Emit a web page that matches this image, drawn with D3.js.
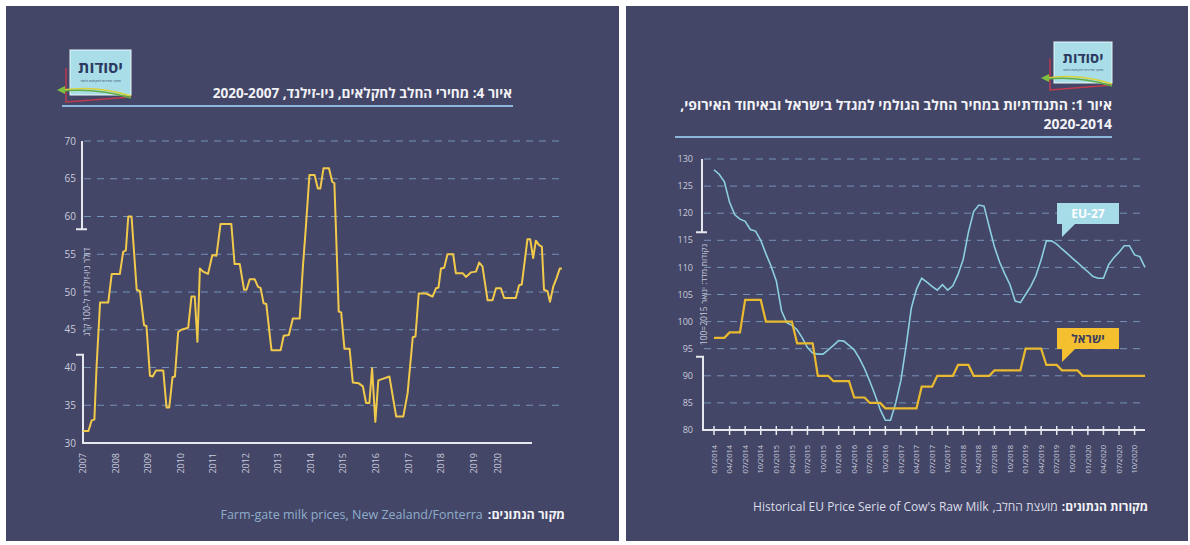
<!DOCTYPE html>
<html>
<head>
<meta charset="utf-8">
<script src="https://cdn.jsdelivr.net/npm/d3@7"></script>
<style>
  body { margin: 0; background: #fff; }
  svg { display: block; }
  text { font-family: "Open Sans", "DejaVu Sans", sans-serif; }
</style>
</head>
<body>
<svg id="chart"></svg>
<script>
// ---- left panel: NZ farm-gate price (months since 01/2007, NZD per 100 kg)
const nzPoints = [[0,31.6],[2,31.6],[3.2,33],[4.2,33.1],[5,40.1],[6.3,48.6],[9.3,48.6],[10.6,52.4],[13.6,52.4],[14.8,55.3],[15.8,55.5],[16.7,60],[17.9,60],[19.8,50.3],[21,50.1],[22.5,45.6],[23.4,45.5],[24.7,38.9],[25.7,38.8],[26.9,39.6],[29.6,39.6],[30.8,34.7],[31.8,34.7],[33,38.7],[33.9,38.8],[35.1,44.7],[36.3,45],[38.2,45.2],[38.8,45.3],[40,49.4],[41.2,49.4],[42.2,43.4],[43.1,53.1],[44.3,52.7],[46.1,52.4],[47.7,54.9],[49.2,54.8],[50.7,59],[54.7,59],[55.9,53.7],[57.8,53.7],[59.4,50.3],[60.3,50.3],[61.5,51.7],[63.3,51.7],[64.5,50.7],[65.5,50.5],[66.6,48.5],[67.6,48.4],[69.5,42.3],[72.9,42.3],[74,44.2],[75.9,44.3],[77.4,46.5],[79.9,46.5],[81.1,53.4],[82.1,58.2],[83.5,65.5],[85.4,65.5],[86.6,63.7],[87.5,63.7],[88.7,66.4],[90.7,66.4],[91.9,64.6],[92.7,64.4],[94.3,47.4],[95.2,47.3],[96.4,42.5],[98.3,42.5],[99.5,38],[101.7,37.9],[103.2,37.5],[104.4,35.3],[105.6,35.3],[106.6,39.9],[107.8,32.8],[108.9,38.3],[110.5,38.5],[113,38.8],[115.5,33.5],[118.1,33.5],[119.7,36.6],[121.6,44],[122.6,44.1],[123.8,49.8],[126.5,49.8],[128.9,49.4],[130.2,50.5],[131.1,50.6],[132,53.1],[133.2,53.2],[134.4,55],[136.5,55],[137.5,52.5],[140,52.5],[141.2,52],[143.1,52.6],[144.9,52.7],[146.1,53.9],[147.3,53.4],[149.2,48.9],[151,48.9],[152.3,50.5],[154.1,50.5],[155.3,49.2],[159.6,49.2],[160.8,50.9],[161.8,51],[163.9,57],[164.9,57],[166,54.5],[167,56.8],[168.2,56.2],[169.2,56],[170,50.3],[171.3,50.1],[172.2,48.7],[173.4,50.7],[174.6,51.8],[175.8,53.1],[176.6,53.1]];
const nzYearLabels = ["2007","2008","2009","2010","2011","2012","2013","2014","2015","2016","2017","2018","2019","2020"];
const nzYearMonths = [0,12,24,36,48,60,72,84,96,108,120,132,144,153];
const nzYTicks = [30,35,40,45,50,55,60,65,70];
const nzTitle = "איור 4: מחירי החלב לחקלאים, ניו-זילנד, 2020-2007";
const nzYLabel = "דולר ניו-זילנדי ל-100 ק\"ג";

// ---- right panel: price index, monthly 01/2014 - 12/2020
const euValues = [128,127.2,125.8,122,119.7,118.9,118.5,117,116.7,115,112.5,110.2,107.5,102,99.8,99.3,98.5,97,95.2,94.2,94,94,94.8,95.6,96.5,96.4,95.6,94.8,93.2,91.3,89,86.5,83.8,81.8,81.8,85,89.2,95.5,102.5,106,108,107.3,106.5,105.8,106.8,105.8,106.6,108.7,111.5,116.5,120.3,121.5,121.3,117.5,113.8,111,108.8,106.8,103.8,103.5,105,106.5,108.5,111.4,114.9,114.9,114.3,113.4,112.6,111.7,110.9,110,109.2,108.3,108,108,110.5,111.8,112.8,114,114,112.3,112,110];
const ilValues = [97,97,97,98,98,98,104,104,104,104,100,100,100,100,100,100,96,96,96,96,90,90,90,89,89,89,89,86,86,86,85,85,85,84,84,84,84,84,84,84,88,88,88,90,90,90,90,92,92,92,90,90,90,90,91,91,91,91,91,91,95,95,95,95,92,92,92,91,91,91,91,90,90,90,90,90,90,90,90,90,90,90,90,90];
const quarterLabels = ["01/2014","04/2014","07/2014","10/2014","01/2015","04/2015","07/2015","10/2015","01/2016","04/2016","07/2016","10/2016","01/2017","04/2017","07/2017","10/2017","01/2018","04/2018","07/2018","10/2018","01/2019","04/2019","07/2019","10/2019","01/2020","04/2020","07/2020","10/2020"];
const idxYTicks = [80,85,90,95,100,105,110,115,120,125,130];
const idxTitle1 = "איור 1: התנודתיות במחיר החלב הגולמי למגדל בישראל ובאיחוד האירופי,";
const idxTitle2 = "2020-2014";
const idxYLabel = "נקודות מדד: ינואר 2015=100";

const width = 1190;
const height = 545;
const bg = "#434667";
const gridColor = "#7f9fc6";
const axisColor = "#e6e7ef";
const tickColor = "#c9cbdb";

const svg = d3.select("#chart").attr("width", width).attr("height", height);

svg.append("rect").attr("x", 6).attr("y", 6).attr("width", 613).attr("height", 535).attr("fill", bg);
svg.append("rect").attr("x", 626).attr("y", 6).attr("width", 562).attr("height", 535).attr("fill", bg);

function drawLogo(x, y, w, h) {
  const g = svg.append("g").attr("transform", `translate(${x},${y})`);
  g.append("path")
    .attr("d", `M-4,${h * 0.4} V${h + 7} L${w},${h + 2}`)
    .attr("fill", "none").attr("stroke", "#c23a4e").attr("stroke-width", 1.4);
  g.append("rect").attr("width", w).attr("height", h)
    .attr("fill", "#a9dee8").attr("stroke", "#e8f6f8").attr("stroke-width", 1);
  g.append("text").attr("x", w / 2).attr("y", h * 0.5)
    .attr("text-anchor", "middle").style("font-size", `${h * 0.36}px`).style("font-weight", 700)
    .attr("fill", "#2c3a62").text("יסודות");
  g.append("text").attr("x", w / 2).attr("y", h * 0.7)
    .attr("text-anchor", "middle").style("font-size", "3.3px")
    .attr("fill", "#2c3a62").text("מחקר ומדיניות לחקלאות ולכפר");
  g.append("path")
    .attr("d", `M${w},${h + 1} Q${w * 0.45},${h - 10} -8,${h - 5}`)
    .attr("fill", "none").attr("stroke", "#d9d23a").attr("stroke-width", 1.6);
  g.append("path")
    .attr("d", `M${w},${h + 3} Q${w * 0.45},${h - 7} -8,${h - 4}`)
    .attr("fill", "none").attr("stroke", "#5fae4a").attr("stroke-width", 1.4);
  g.append("path")
    .attr("d", `M-13,${h - 5} L-5,${h - 9} L-5,${h - 1} Z`)
    .attr("fill", "#7fbf3f");
}

function drawGrid(yScale, ticks, x1, x2) {
  svg.append("g").selectAll("line").data(ticks).enter().append("line")
    .attr("x1", x1).attr("x2", x2)
    .attr("y1", (d) => yScale(d)).attr("y2", (d) => yScale(d))
    .style("stroke", gridColor).style("stroke-width", 1)
    .style("stroke-dasharray", "7,6").style("opacity", 0.85);
}

function drawBrokenAxis(x, yTop, yCap1, yCap2, yBottom, xRight) {
  const g = svg.append("g").style("stroke", axisColor).style("stroke-width", 2).style("fill", "none");
  g.append("path").attr("d", `M${x},${yTop} V${yCap1} M${x - 6},${yCap1} H${x + 5}`);
  g.append("path").attr("d", `M${x - 6},${yCap2} H${x + 1} V${yBottom} H${xRight}`);
}

function drawYTicks(yScale, ticks, x, size) {
  svg.append("g").selectAll("text").data(ticks).enter().append("text")
    .attr("x", x).attr("y", (d) => yScale(d)).attr("dy", "0.35em")
    .attr("text-anchor", "end").style("font-size", size).attr("fill", tickColor)
    .text((d) => d);
}

function rtlText(x, y, str, size, weight, color) {
  return svg.append("text").attr("x", x).attr("y", y)
    .attr("direction", "rtl").style("direction", "rtl").attr("text-anchor", "start")
    .style("font-size", size).style("font-weight", weight).attr("fill", color).text(str);
}

function callout(x, y, w, h, fill, label, color) {
  const g = svg.append("g");
  g.append("path")
    .attr("d", `M${x},${y} H${x + w} V${y + h} H${x + 18} L${x + 5},${y + h + 13} V${y + h} H${x} Z`)
    .attr("fill", fill);
  g.append("text").attr("x", x + w / 2).attr("y", y + h / 2).attr("dy", "0.36em")
    .attr("text-anchor", "middle").style("font-size", "12px").style("font-weight", 700)
    .attr("fill", color).text(label);
}

// ================= left panel =================
drawLogo(70, 50, 61, 45);
rtlText(512, 98, nzTitle, "13.6px", 700, "#f2f2f6");
svg.append("line").attr("x1", 62).attr("x2", 513).attr("y1", 106).attr("y2", 106)
  .style("stroke", "#8fb6da").style("stroke-width", 2);

const nzX = d3.scaleLinear().domain([0, 177]).range([83, 563]);
const nzY = d3.scaleLinear().domain([30, 70]).range([443, 141]);

drawGrid(nzY, nzYTicks.filter((d) => d > 30), 84, 565);
drawBrokenAxis(82, nzY(70), nzY(58.3), nzY(41.7), nzY(30), 532);
drawYTicks(nzY, nzYTicks, 76, "10px");

svg.append("text")
  .attr("transform", `translate(87, ${nzY(50)}) rotate(-90)`)
  .attr("text-anchor", "middle").attr("dy", "0.35em")
  .style("font-size", "9px").attr("fill", tickColor).text(nzYLabel);

svg.append("g").selectAll("text").data(nzYearLabels).enter().append("text")
  .attr("transform", (d, i) => `translate(${nzX(nzYearMonths[i])}, 453) rotate(-90)`)
  .attr("text-anchor", "end").attr("dy", "0.35em")
  .style("font-size", "9px").attr("fill", tickColor).text((d) => d);

svg.append("path").datum(nzPoints)
  .attr("d", d3.line().x((d) => nzX(d[0])).y((d) => nzY(d[1])))
  .style("fill", "none").style("stroke", "#f1c94b").style("stroke-width", 2)
  .style("stroke-linejoin", "round");

// source line
const nzSrc = rtlText(565, 519, "מקור הנתונים:", "12.5px", 700, "#f2f2f6");
svg.append("text").attr("x", 565 - nzSrc.node().getComputedTextLength() - 5).attr("y", 519)
  .attr("text-anchor", "end").style("font-size", "12.5px").attr("fill", "#8fadcb")
  .text("Farm-gate milk prices, New Zealand/Fonterra");

// ================= right panel =================
drawLogo(1054, 42, 58, 41);
rtlText(1112, 110, idxTitle1, "14px", 700, "#f2f2f6");
rtlText(1112, 129, idxTitle2, "14px", 700, "#f2f2f6");
svg.append("line").attr("x1", 675).attr("x2", 1112).attr("y1", 137).attr("y2", 137)
  .style("stroke", "#8fb6da").style("stroke-width", 2);

const idxX = d3.scaleLinear().domain([0, 83]).range([714, 1145]);
const idxY = d3.scaleLinear().domain([80, 130]).range([430, 159]);

drawGrid(idxY, idxYTicks.filter((d) => d > 80), 704, 1145);
drawBrokenAxis(702, idxY(130), idxY(116.5), idxY(93.5), idxY(80), 1145);
drawYTicks(idxY, idxYTicks, 693, "9px");

svg.append("g").selectAll("line").data(quarterLabels).enter().append("line")
  .attr("x1", (d, i) => idxX(i * 3)).attr("x2", (d, i) => idxX(i * 3))
  .attr("y1", idxY(80) - 4).attr("y2", idxY(80) + 5)
  .style("stroke", axisColor).style("stroke-width", 1.5);

svg.append("g").selectAll("text").data(quarterLabels).enter().append("text")
  .attr("transform", (d, i) => `translate(${idxX(i * 3)}, 445) rotate(-90)`)
  .attr("text-anchor", "end").attr("dy", "0.35em")
  .style("font-size", "7.5px").attr("fill", tickColor).text((d) => d);

svg.append("text")
  .attr("transform", `translate(704, ${idxY(105)}) rotate(-90)`)
  .attr("text-anchor", "middle").attr("dy", "0.35em")
  .style("font-size", "8.5px").attr("fill", tickColor).text(idxYLabel);

const idxLine = d3.line().x((d, i) => idxX(i)).y((d) => idxY(d));
svg.append("path").datum(euValues).attr("d", idxLine)
  .style("fill", "none").style("stroke", "#8ccfe0").style("stroke-width", 1.6);
svg.append("path").datum(ilValues).attr("d", idxLine)
  .style("fill", "none").style("stroke", "#e9ba2f").style("stroke-width", 2.2);

callout(1057, 203, 62, 21, "#a6dce7", "EU-27", "#ffffff");
callout(1057, 328, 62, 21, "#f5c030", "ישראל", "#3a3d5c");

// source line
const idxSrc = rtlText(1148, 511, "מקורות הנתונים:", "12px", 700, "#f2f2f6");
let sx = 1148 - idxSrc.node().getComputedTextLength() - 4;
const idxSrc2 = rtlText(sx, 511, "מועצת החלב,", "12px", 400, "#dcdde8");
sx -= idxSrc2.node().getComputedTextLength() + 4;
svg.append("text").attr("x", sx).attr("y", 511)
  .attr("text-anchor", "end").style("font-size", "12px").attr("fill", "#dcdde8")
  .text("Historical EU Price Serie of Cow's Raw Milk");
</script>
</body>
</html>
